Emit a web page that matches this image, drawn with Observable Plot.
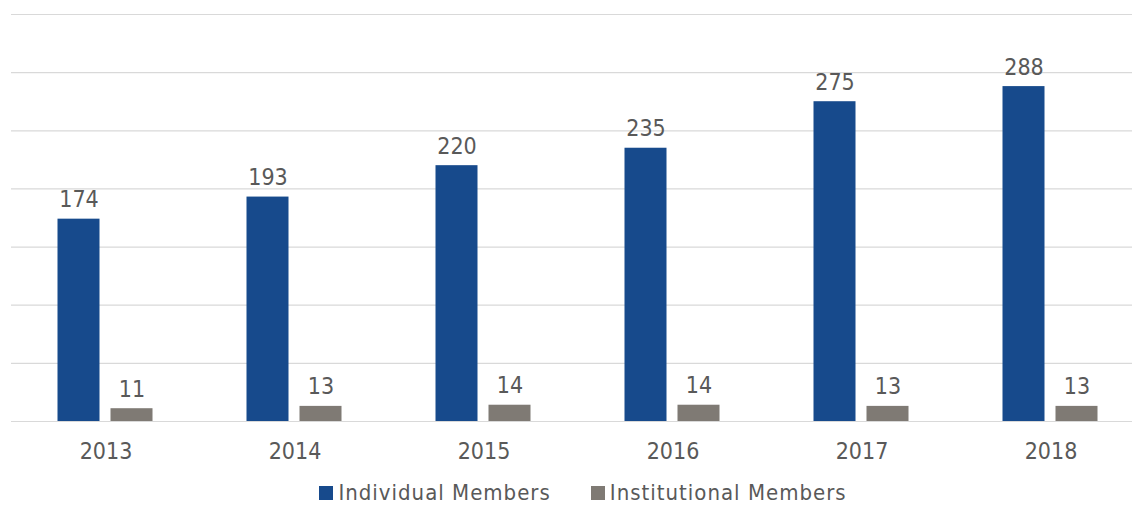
<!DOCTYPE html>
<html>
<head>
<meta charset="utf-8">
<script src="https://cdn.jsdelivr.net/npm/d3@7"></script>
<script src="https://cdn.jsdelivr.net/npm/@observablehq/plot@0.6"></script>
<style>
  html, body { margin: 0; padding: 0; background: #fff; }
  body { width: 1132px; height: 506px; overflow: hidden; font-family: "DejaVu Sans Condensed", "DejaVu Sans", sans-serif; }
  #chart svg { display: block; overflow: visible; }
  .legend { display: flex; justify-content: center; gap: 40px; margin-top: 10px; padding-left: 34px; color: #595959; font-size: 22px; letter-spacing: 1px; line-height: 26px; height: 26px; }
  .legend span.item { display: inline-flex; align-items: center; }
  .legend span.sw { width: 14px; height: 14px; display: inline-block; margin-right: 5px; }
</style>
</head>
<body>
<div id="chart"></div>
<script>
const years = ["2013", "2014", "2015", "2016", "2017", "2018"];
const seriesNames = ["Individual Members", "Institutional Members"];
const individual = [174, 193, 220, 235, 275, 288];
const institutional = [11, 13, 14, 14, 13, 13];
const colors = ["#174A8C", "#7F7A74"];
const yTicks = [0, 50, 100, 150, 200, 250, 300, 350];

const rows = [];
years.forEach((yr, i) => {
  rows.push({year: yr, series: seriesNames[0], value: individual[i]});
  rows.push({year: yr, series: seriesNames[1], value: institutional[i]});
});

const font = "'DejaVu Sans Condensed', 'DejaVu Sans', sans-serif";

const chart = Plot.plot({
  width: 1132,
  height: 470,
  marginTop: 14,
  marginBottom: 49,
  marginLeft: 10.5,
  marginRight: -12.5,
  style: {fontFamily: font, color: "#595959", background: "#fff"},
  fx: {domain: years, padding: 0, label: null},
  x: {domain: seriesNames, paddingInner: 0.204, paddingOuter: 0.861, axis: null},
  y: {domain: [0, 350], axis: null},
  color: {domain: seriesNames, range: colors},
  marks: [
    Plot.ruleY(yTicks, {stroke: "#d9d9d9", strokeWidth: 1.2}),
    Plot.barY(rows, {fx: "year", x: "series", y: "value", fill: "series"}),
    Plot.text(rows, {fx: "year", x: "series", y: "value", text: d => String(d.value),
      lineAnchor: "bottom", dy: -12, fontSize: 23, fill: "#595959"}),
    Plot.axisFx({anchor: "bottom", tickSize: 0, tickPadding: 21, fontSize: 23, color: "#595959", label: null})
  ]
});
document.getElementById("chart").appendChild(chart);

const legend = document.createElement("div");
legend.className = "legend";
seriesNames.forEach((s, i) => {
  const item = document.createElement("span");
  item.className = "item";
  const sw = document.createElement("span");
  sw.className = "sw";
  sw.style.background = colors[i];
  item.appendChild(sw);
  item.appendChild(document.createTextNode(s));
  legend.appendChild(item);
});
document.body.appendChild(legend);
</script>
</body>
</html>
